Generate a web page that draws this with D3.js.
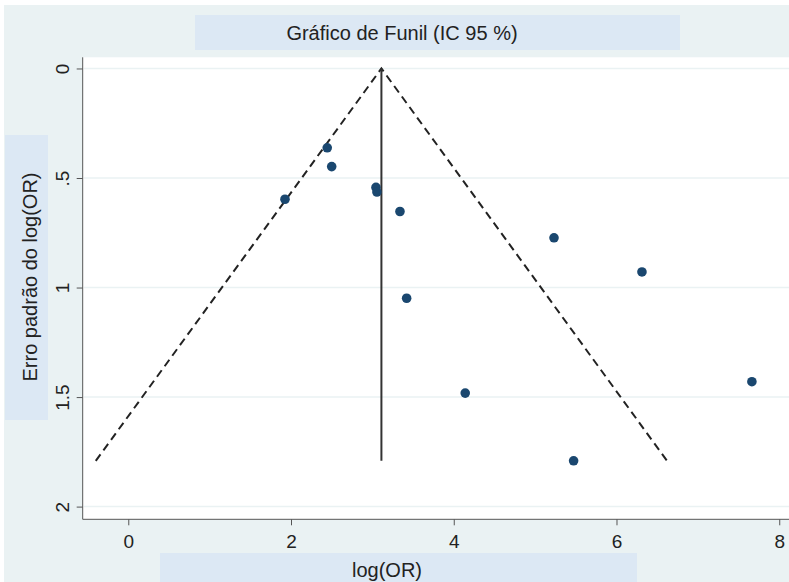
<!DOCTYPE html>
<html><head><meta charset="utf-8">
<script src="https://cdn.jsdelivr.net/npm/d3@7"></script>
<style>body{margin:0;background:#fff}svg{display:block;font-family:"Liberation Sans",Arial,sans-serif}</style>
</head><body>
<svg id="c" width="789" height="582"></svg>
<script>
// Data
const logOR = [2.445, 2.50, 1.926, 3.044, 3.056, 3.339, 5.232, 6.313, 3.421, 4.141, 7.664, 5.473];
const seLogOR = [0.362, 0.448, 0.597, 0.543, 0.564, 0.653, 0.773, 0.929, 1.049, 1.482, 1.430, 1.791];
const pooled = 3.111;
const xTicks = [0, 2, 4, 6, 8];
const yTicks = [0, 0.5, 1, 1.5, 2];
const yTickLabels = ["0", ".5", "1", "1.5", "2"];
const titleText = "Gráfico de Funil (IC 95 %)";
const xTitle = "log(OR)";
const yTitle = "Erro padrão do log(OR)";

const svg = d3.select("#c");
const W = 789, H = 582;
const L = 82.7, R = 789, T = 57.3, B = 519.3;
const FS = 20, TFS = 19;

const x = d3.scaleLinear().domain([-0.56, 8.12]).range([L, R]);
const y = d3.scaleLinear().domain([-0.051, 2.058]).range([T, B]);

// backgrounds
svg.append("rect").attr("x", 4).attr("y", 5).attr("width", W - 4).attr("height", H - 5).attr("fill", "#eaf2f3");
svg.append("rect").attr("x", L).attr("y", T).attr("width", R - L).attr("height", B - T).attr("fill", "#fff");

// title box
svg.append("rect").attr("x", 195).attr("y", 15).attr("width", 485).attr("height", 35).attr("fill", "#dce8f4");
svg.append("text").attr("x", 402).attr("y", 40).attr("text-anchor", "middle").attr("font-size", FS).attr("fill", "#222").text(titleText);

// gridlines
svg.append("g").selectAll("line").data(yTicks).join("line")
  .attr("x1", L + 1).attr("x2", R).attr("y1", d => y(d)).attr("y2", d => y(d))
  .attr("stroke", "#eaf2f3").attr("stroke-width", 1.5);

// axes
const gx = svg.append("g").attr("transform", `translate(0,${B})`)
  .call(d3.axisBottom(x).tickValues(xTicks).tickSize(6).tickPadding(9).tickFormat(d3.format("d")));
gx.select(".domain").attr("stroke", "#555").attr("d", `M${L},0H${R}`);
gx.selectAll(".tick line").attr("stroke", "#555");
gx.selectAll(".tick text").attr("font-size", TFS).attr("fill", "#222").attr("font-family", "Liberation Sans, Arial, sans-serif");

const gy = svg.append("g").attr("transform", `translate(${L},0)`)
  .call(d3.axisLeft(y).tickValues(yTicks).tickSize(6).tickFormat((d, i) => yTickLabels[i]));
gy.select(".domain").attr("stroke", "#555").attr("d", `M0,${T}V${B}`);
gy.selectAll(".tick line").attr("stroke", "#555");
gy.selectAll(".tick text").attr("font-size", TFS).attr("fill", "#222").attr("font-family", "Liberation Sans, Arial, sans-serif")
  .attr("transform", "rotate(-90)").attr("x", 0).attr("y", -14).attr("dy", "0").attr("text-anchor", "middle");

// axis title boxes
svg.append("rect").attr("x", 160).attr("y", 553).attr("width", 477).attr("height", 29).attr("fill", "#dce8f4");
svg.append("text").attr("x", 387).attr("y", 577).attr("text-anchor", "middle").attr("font-size", FS).attr("fill", "#222").text(xTitle);
svg.append("rect").attr("x", 5).attr("y", 135).attr("width", 43).attr("height", 285).attr("fill", "#dce8f4");
svg.append("text").attr("transform", "translate(37,277) rotate(-90)").attr("text-anchor", "middle").attr("font-size", FS).attr("fill", "#222").text(yTitle);

// funnel
const maxSE = d3.max(seLogOR);
const funnel = [[pooled - 1.96 * maxSE, maxSE], [pooled, 0], [pooled + 1.96 * maxSE, maxSE]];
svg.append("path").attr("d", d3.line().x(d => x(d[0])).y(d => y(d[1]))(funnel))
  .attr("fill", "none").attr("stroke", "#222").attr("stroke-width", 2).attr("stroke-dasharray", "8,5");
svg.append("line").attr("x1", x(pooled)).attr("x2", x(pooled)).attr("y1", y(0)).attr("y2", y(maxSE))
  .attr("stroke", "#333").attr("stroke-width", 2);

// points
svg.append("g").selectAll("circle").data(logOR).join("circle")
  .attr("cx", d => x(d)).attr("cy", (d, i) => y(seLogOR[i])).attr("r", 4.8).attr("fill", "#1a476f");
</script>
</body></html>
